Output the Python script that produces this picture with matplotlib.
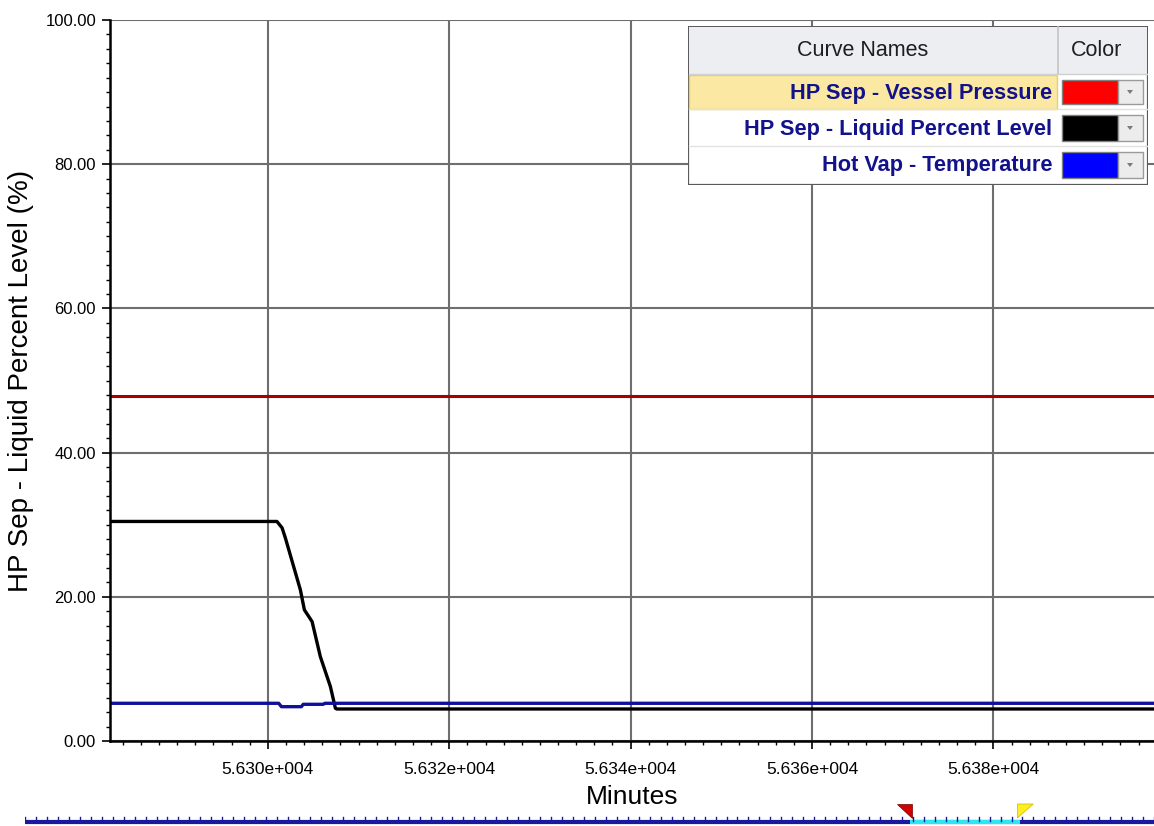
import matplotlib

matplotlib.use("Agg")

import matplotlib.pyplot as plt
from matplotlib.patches import Rectangle, Polygon
from matplotlib.ticker import MultipleLocator, FuncFormatter

plt.rcParams["font.family"] = ["Liberation Sans", "DejaVu Sans"]

# data (minutes vs percent)
x_range = [56282.6, 56397.7]

pressure_x = [56282.6, 56397.7]
pressure_y = [47.8, 47.8]

level_x = [56282.6, 56301.0, 56301.57, 56301.93, 56303.59, 56304.03, 56304.88,
           56305.79, 56306.9, 56307.45, 56307.6, 56397.7]
level_y = [30.45, 30.45, 29.57, 28.18, 20.96, 18.19, 16.56,
           11.70, 7.54, 4.54, 4.44, 4.44]

temp_x = [56282.6, 56301.2, 56301.5, 56303.7, 56303.9, 56306.1, 56306.3, 56397.7]
temp_y = [5.23, 5.23, 4.76, 4.76, 5.09, 5.09, 5.23, 5.23]

curve_names = ["HP Sep - Vessel Pressure", "HP Sep - Liquid Percent Level",
               "Hot Vap - Temperature"]
line_colors = ["#a80000", "#000000", "#10109a"]
swatch_colors = ["#ff0000", "#000000", "#0000ff"]

W, H = 1154, 826
fig = plt.figure(figsize=(W / 100, H / 100), dpi=100)


def px_axes(x0, y0, x1, y1):
    return fig.add_axes([x0 / W, 1 - y1 / H, (x1 - x0) / W, (y1 - y0) / H])


ax = px_axes(110, 20, 1154, 741)
ax.plot(pressure_x, pressure_y, color=line_colors[0], lw=2.2)
ax.plot(level_x, level_y, color=line_colors[1], lw=2.4)
ax.plot(temp_x, temp_y, color=line_colors[2], lw=2.4)

ax.set_xlim(*x_range)
ax.set_ylim(0, 100)
ax.xaxis.set_major_locator(MultipleLocator(20))
ax.xaxis.set_minor_locator(MultipleLocator(2))
ax.yaxis.set_major_locator(MultipleLocator(20))
ax.yaxis.set_minor_locator(MultipleLocator(2))
ax.xaxis.set_major_formatter(FuncFormatter(lambda v, p: f"{v / 1e4:.3f}e+004"))
ax.yaxis.set_major_formatter(FuncFormatter(lambda v, p: f"{v:.2f}"))
ax.grid(True, which="major", color="#6e6e6e", lw=1.5)
ax.tick_params(which="major", direction="out", length=6, width=1.2, labelsize=12,
               colors="black", pad=4)
ax.tick_params(which="minor", direction="out", length=3, width=1.0)
ax.tick_params(axis="x", pad=9, labelsize=12.5)
for side in ("right", "top"):
    ax.spines[side].set_visible(False)
for side in ("left", "bottom"):
    ax.spines[side].set_linewidth(1.8)
ax.set_xlabel("Minutes", fontsize=19, labelpad=6)
ax.set_ylabel("HP Sep - Liquid Percent Level (%)", fontsize=20, labelpad=8)

# curve name / colour table in the top right corner
lg = px_axes(688, 26, 1148, 185)
lg.set_xlim(0, 460)
lg.set_ylim(159, 0)
lg.axis("off")
lg.add_patch(Rectangle((0, 0), 460, 159, facecolor="white", edgecolor="#5a5a5a", lw=1.6))
lg.add_patch(Rectangle((1, 1), 458, 47, facecolor="#eceef2", edgecolor="none"))
lg.plot([370, 370], [1, 48], color="#c4c4c4", lw=1.2)
lg.plot([1, 459], [48, 48], color="#d0d0d0", lw=1)
lg.text(175, 25, "Curve Names", ha="center", va="center", fontsize=15.5, color="#1e1e1e")
lg.text(409, 25, "Color", ha="center", va="center", fontsize=15.5, color="#1e1e1e")

row_top = [49, 84, 121]
row_h = [34, 36, 36]
for i, name in enumerate(curve_names):
    top = row_top[i]
    if i == 0:
        lg.add_patch(Rectangle((1, top), 368, row_h[i], facecolor="#fbe8a2",
                               edgecolor="#e6cd78", lw=1))
    if i > 0:
        lg.plot([1, 459], [top - 1, top - 1], color="#e2e2e2", lw=1)
    lg.text(364, top + row_h[i] / 2 + 1, name, ha="right", va="center",
            fontsize=15.7, fontweight="bold", color="#12128a")
    lg.add_patch(Rectangle((374, top + 5), 56, row_h[i] - 10,
                           facecolor=swatch_colors[i], edgecolor="#808080", lw=1))
    lg.add_patch(Rectangle((430, top + 5), 25, row_h[i] - 10,
                           facecolor="#ececec", edgecolor="#9a9a9a", lw=1))
    cy = top + row_h[i] / 2
    lg.add_patch(Polygon([[439, cy - 2], [445, cy - 2], [442, cy + 2]],
                         closed=True, facecolor="#7a7a7a", edgecolor="none"))

# time slider strip at the bottom
slider_window = [0.784, 0.881]
st = px_axes(25, 800, 1154, 826)
st.set_xlim(0, 1)
st.set_ylim(0, 26)
st.axis("off")
st.plot([0, 1], [4, 4], color="#1a1aa0", lw=3, solid_capstyle="butt")
st.plot(slider_window, [4, 4], color="#2ee6f0", lw=3, solid_capstyle="butt")
n_ticks = 104
for k in range(n_ticks):
    st.plot([k / (n_ticks - 1)] * 2, [5, 9], color="#1a1aa0", lw=1)
st.add_patch(Polygon([[slider_window[0] - 0.012, 22], [slider_window[0] + 0.002, 22],
                      [slider_window[0] + 0.002, 8]], closed=True,
                     facecolor="#d00000", edgecolor="#700000", lw=0.5))
st.add_patch(Polygon([[slider_window[1] - 0.002, 22], [slider_window[1] + 0.012, 22],
                      [slider_window[1] - 0.002, 8]], closed=True,
                     facecolor="#ffee22", edgecolor="#c8b400", lw=0.5))

fig.savefig("out.png", dpi=100)
